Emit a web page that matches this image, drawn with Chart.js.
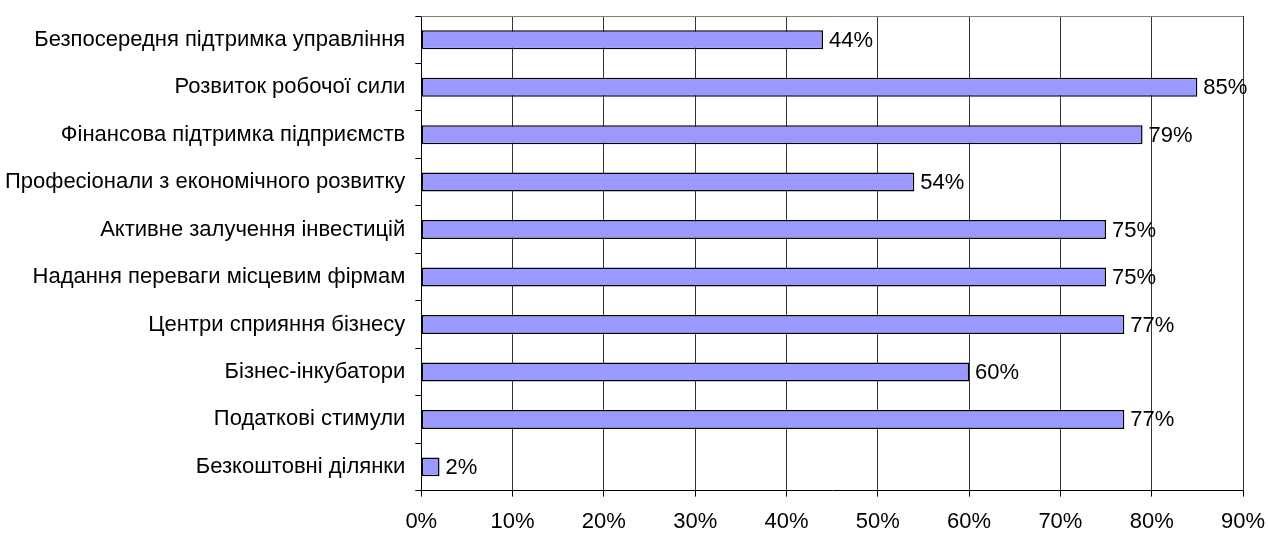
<!DOCTYPE html>
<html>
<head>
<meta charset="utf-8">
<script src="https://cdn.jsdelivr.net/npm/chart.js@4.4.0/dist/chart.umd.min.js"></script>
<style>
    html, body { margin: 0; padding: 0; background: #fff; }
    #wrap { width: 1268px; height: 537px; position: relative; }
</style>
</head>
<body>
<div id="wrap"><canvas id="chart"></canvas></div>
<script>
// Chart data
const categories = [
    'Безпосередня підтримка управління',
    'Розвиток робочої сили',
    'Фінансова підтримка підприємств',
    'Професіонали з економічного розвитку',
    'Активне залучення інвестицій',
    'Надання переваги місцевим фірмам',
    'Центри сприяння бізнесу',
    'Бізнес-інкубатори',
    'Податкові стимули',
    'Безкоштовні ділянки'
];
const percentValues = [44, 85, 79, 54, 75, 75, 77, 60, 77, 2];
const xTicks = [0, 10, 20, 30, 40, 50, 60, 70, 80, 90];

const FONT = '"Liberation Sans", Arial, sans-serif';

// Value labels to the right of each bar
const barLabels = {
    id: 'barLabels',
    afterDatasetsDraw(chart) {
        const ctx = chart.ctx;
        const meta = chart.getDatasetMeta(0);
        ctx.save();
        ctx.font = '22px ' + FONT;
        ctx.fillStyle = '#000';
        ctx.textAlign = 'left';
        ctx.textBaseline = 'middle';
        meta.data.forEach((bar, i) => {
            ctx.fillText(percentValues[i] + '%', bar.x + 6, bar.y + 1);
        });
        ctx.restore();
    }
};

// Gray frame line along the top of the plot area
const topBorder = {
    id: 'topBorder',
    beforeDatasetsDraw(chart) {
        const { ctx, chartArea } = chart;
        ctx.save();
        ctx.strokeStyle = '#808080';
        ctx.lineWidth = 1;
        ctx.beginPath();
        ctx.moveTo(chartArea.left, chartArea.top + 0.5);
        ctx.lineTo(chartArea.right, chartArea.top + 0.5);
        ctx.stroke();
        ctx.restore();
    }
};

new Chart(document.getElementById('chart'), {
    type: 'bar',
    data: {
        labels: categories,
        datasets: [{
            data: percentValues,
            backgroundColor: '#9999FF',
            borderColor: '#000000',
            borderWidth: 1.5,
            borderSkipped: false,
            categoryPercentage: 0.4,
            barPercentage: 1.0
        }]
    },
    options: {
        indexAxis: 'y',
        responsive: true,
        maintainAspectRatio: false,
        animation: false,
        layout: {
            padding: { top: 16, right: 25, bottom: -10, left: -5 }
        },
        plugins: {
            legend: { display: false },
            tooltip: { enabled: false }
        },
        scales: {
            x: {
                min: 0,
                max: 90,
                afterBuildTicks(axis) {
                    axis.ticks = xTicks.map(v => ({ value: v }));
                },
                afterFit(axis) {
                    axis.paddingLeft = 0;
                    axis.paddingRight = 0;
                },
                grid: {
                    color: '#333333',
                    lineWidth: 1,
                    tickLength: 6,
                    tickColor: '#000000'
                },
                border: { color: '#000000', width: 1 },
                ticks: {
                    color: '#000000',
                    padding: 12,
                    font: { family: FONT, size: 22 },
                    callback: v => v + '%'
                }
            },
            y: {
                afterFit(axis) {
                    axis.paddingTop = 0;
                    axis.paddingBottom = 0;
                },
                grid: {
                    offset: true,
                    drawOnChartArea: false,
                    tickLength: 6,
                    tickColor: '#000000'
                },
                border: { color: '#000000', width: 1 },
                ticks: {
                    color: '#000000',
                    padding: 10,
                    font: { family: FONT, size: 22 }
                }
            }
        }
    },
    plugins: [barLabels, topBorder]
});
</script>
</body>
</html>
